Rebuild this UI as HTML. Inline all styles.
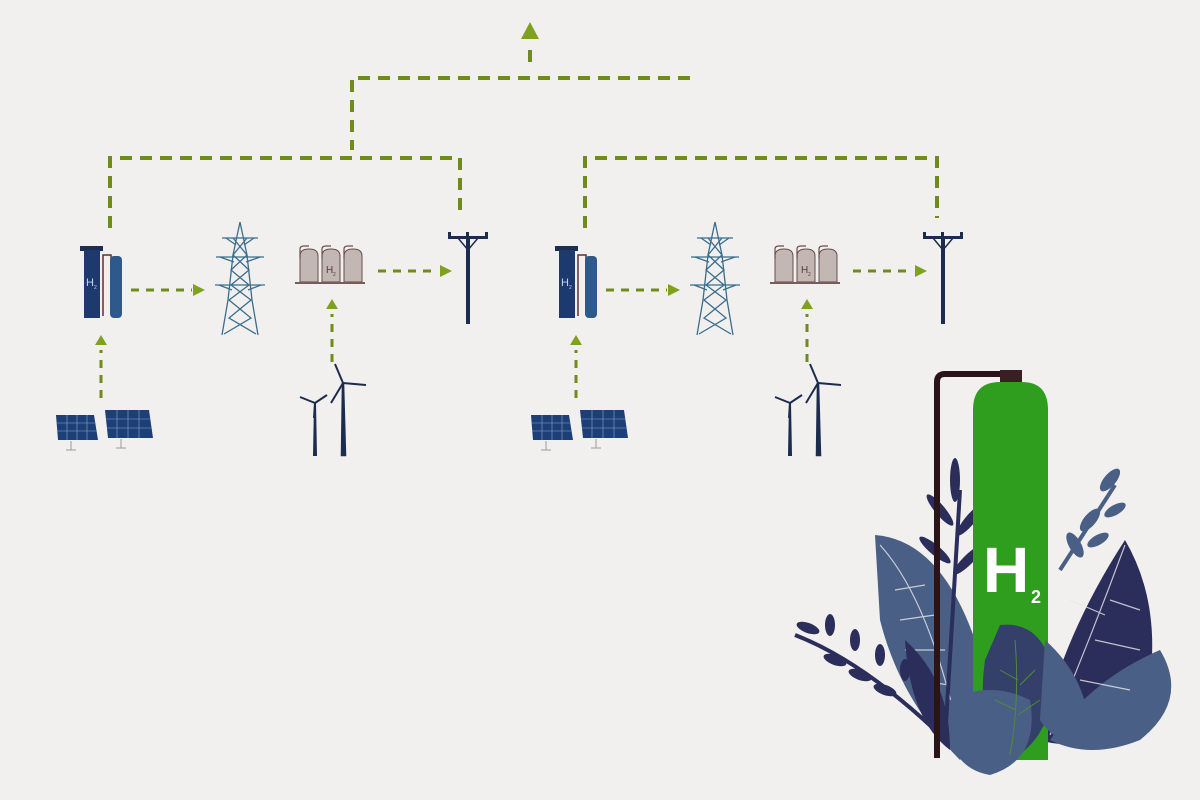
<!DOCTYPE html>
<html><head><style>html,body{margin:0;padding:0;background:#f1f0ee}svg{display:block}</style></head>
<body>
<svg width="1200" height="800" viewBox="0 0 1200 800" xmlns="http://www.w3.org/2000/svg" font-family="Liberation Sans, sans-serif">
<rect width="1200" height="800" fill="#f1f0ee"/>
<defs>
<g id="grp">
 <rect x="80" y="246" width="23" height="5" fill="#1d2c52"/>
 <rect x="84" y="250" width="16" height="68" fill="#1d3a6e"/>
 <text x="86" y="286" font-size="11" fill="#c8d4e8">H</text><text x="94" y="289" font-size="5" fill="#c8d4e8">2</text>
 <path d="M103 316 V255 H111 V260" stroke="#5a3030" stroke-width="1.5" fill="none"/>
 <rect x="110" y="256" width="12" height="62" rx="4" fill="#2d5a8a"/>
 <g stroke="#3a6d8e" stroke-width="1.3" fill="none">
  <path d="M240 222 L233 255 L228 300 L222 335 M240 222 L247 255 L252 300 L258 335"/>
  <path d="M222 238 H258 M216 257 H264 M215 285 H265"/>
  <path d="M233 238 L247 255 L231 270 L249 285 L229 300 L251 318 L224 334 M247 238 L233 255 L249 270 L231 285 L251 300 L229 318 L256 334"/>
  <path d="M226 238 L236 245 M254 238 L244 245 M220 257 L234 262 M260 257 L246 262 M219 285 L232 290 M261 285 L248 290"/>
 </g>
 <g fill="#c3b7b4" stroke="#6a4c4c" stroke-width="1">
  <path d="M300 282 V256 Q300 249 309 249 Q318 249 318 256 V282 Z"/>
  <path d="M322 282 V256 Q322 249 331 249 Q340 249 340 256 V282 Z"/>
  <path d="M344 282 V256 Q344 249 353 249 Q362 249 362 256 V282 Z"/>
 </g>
 <path d="M300 259 V249 Q300 246 304 246 H309 M322 259 V249 Q322 246 326 246 H331 M344 259 V249 Q344 246 348 246 H353" stroke="#6a4c4c" stroke-width="1.2" fill="none"/>
 <rect x="295" y="282" width="70" height="2" fill="#7a5a5a"/>
 <text x="326" y="273" font-size="10" fill="#5a3a3a">H</text><text x="333" y="276" font-size="5" fill="#5a3a3a">2</text>
 <rect x="466" y="236" width="4" height="88" fill="#1b2c4e"/>
 <rect x="448" y="236" width="40" height="3" fill="#1b2c4e"/>
 <path d="M458 238 L468 250 L478 238" stroke="#1b2c4e" stroke-width="1.5" fill="none"/>
 <rect x="448" y="232" width="3" height="4" fill="#1b2c4e"/><rect x="466" y="232" width="3" height="4" fill="#1b2c4e"/><rect x="485" y="232" width="3" height="4" fill="#1b2c4e"/>
 <path d="M56 415 H94 L98 440 H58 Z" fill="#1d3f78"/>
 <path d="M105 410 H149 L153 438 H108 Z" fill="#1d3f78"/>
 <g stroke="#8aa6d0" stroke-width="0.6"><path d="M57 423 H96 M57 431 H97 M106 419 H150 M107 428 H151 M67 415 V440 M77 415 V440 M87 415 V440 M117 410 V438 M128 410 V438 M139 410 V438"/></g>
 <path d="M71 441 V450 M66 450 H76 M121 439 V448 M116 448 H126" stroke="#9a9a9a" stroke-width="1"/>
 <g stroke="#1b2c4e" fill="#1b2c4e">
  <path d="M314 455 L315 403 L316 455 Z" stroke-width="2"/>
  <path d="M315 403 L300 397 M315 403 L327 395 M315 403 L314 418" stroke-width="2"/>
  <path d="M342 455 L343 383 L345 455 Z" stroke-width="2.5"/>
  <path d="M343 383 L335 364 M343 383 L366 385 M343 383 L331 403" stroke-width="2"/>
 </g>
 <g stroke="#6e8b1c" stroke-width="3" stroke-dasharray="8 7" fill="none">
  <path d="M131 290 H192"/><path d="M378 271 H437"/>
  <path d="M101 398 V350"/><path d="M332 362 V314"/>
 </g>
 <g fill="#7ea21e">
  <path d="M193 284 L205 290 L193 296 Z"/><path d="M440 265 L452 271 L440 277 Z"/>
  <path d="M95 345 L101 335 L107 345 Z"/><path d="M326 309 L332 299 L338 309 Z"/>
 </g>
</g>
</defs>
<use href="#grp"/>
<use href="#grp" x="475"/>
<g stroke="#6e8b1c" stroke-width="4" stroke-dasharray="12 8" fill="none">
 <path d="M530 62 V44"/>
 <path d="M690 78 H352 V150"/>
 <path d="M110 228 V158 H460 V218"/>
 <path d="M585 228 V158 H937 V218"/>
</g>
<path d="M521 39 L530 22 L539 39 Z" fill="#7ea21e"/>
<g fill="#4a5f85">
 <path d="M875 535 Q940 540 975 640 Q990 720 960 760 Q900 700 880 620 Z"/>
 <path d="M1125 540 Q1160 600 1150 680 Q1100 760 1040 740 Q1060 640 1125 540 Z" fill="#2b2d5a"/>
 <path d="M1160 650 Q1190 700 1140 740 Q1090 760 1050 740 Q1090 680 1160 650 Z"/>
</g>
<g stroke="#e8e8ee" stroke-width="1.2" fill="none" opacity="0.8">
 <path d="M880 545 Q930 600 960 740"/><path d="M895 590 L925 585 M900 620 L935 615 M905 650 L945 650 M912 680 L950 685"/>
 <path d="M1125 545 Q1090 640 1050 735"/><path d="M1110 600 L1140 610 M1095 640 L1140 650 M1080 680 L1130 690 M1070 600 L1105 615"/>
</g>
<g stroke="#2b2d5a" stroke-width="4" fill="none"><path d="M960 490 L945 740"/><path d="M795 635 Q860 660 935 730"/></g>
<g fill="#2b2d5a">
 <ellipse cx="955" cy="480" rx="5" ry="22"/><ellipse cx="940" cy="510" rx="5" ry="20" transform="rotate(-40 940 510)"/><ellipse cx="970" cy="520" rx="5" ry="20" transform="rotate(40 970 520)"/>
 <ellipse cx="935" cy="550" rx="5" ry="20" transform="rotate(-50 935 550)"/><ellipse cx="968" cy="560" rx="5" ry="20" transform="rotate(45 968 560)"/>
 <ellipse cx="808" cy="628" rx="12" ry="5" transform="rotate(20 808 628)"/><ellipse cx="830" cy="625" rx="5" ry="11"/><ellipse cx="855" cy="640" rx="5" ry="11"/><ellipse cx="880" cy="655" rx="5" ry="11"/>
 <ellipse cx="835" cy="660" rx="12" ry="5" transform="rotate(20 835 660)"/><ellipse cx="860" cy="675" rx="12" ry="5" transform="rotate(20 860 675)"/><ellipse cx="885" cy="690" rx="12" ry="5" transform="rotate(20 885 690)"/><ellipse cx="905" cy="670" rx="5" ry="11"/>
 <path d="M905 640 Q950 680 950 750 Q910 720 905 640 Z"/>
</g>
<path d="M937 758 V382 Q937 374 945 374 H1020" stroke="#2a1418" stroke-width="6" fill="none"/>
<rect x="1000" y="370" width="22" height="14" fill="#3a2024"/>
<path d="M973 760 V410 Q973 382 1000 382 H1022 Q1048 382 1048 410 V760 Z" fill="#2f9e1e"/>
<text x="983" y="592" font-size="64" font-weight="bold" fill="#ffffff">H</text>
<text x="1031" y="603" font-size="18" font-weight="bold" fill="#ffffff">2</text>
<g fill="#4a5f85">
 <path d="M1060 570 L1115 485" stroke="#4a5f85" stroke-width="4"/>
 <ellipse cx="1110" cy="480" rx="6" ry="14" transform="rotate(40 1110 480)"/><ellipse cx="1090" cy="520" rx="6" ry="14" transform="rotate(40 1090 520)"/><ellipse cx="1075" cy="545" rx="6" ry="14" transform="rotate(-30 1075 545)"/><ellipse cx="1115" cy="510" rx="12" ry="5" transform="rotate(-30 1115 510)"/><ellipse cx="1098" cy="540" rx="12" ry="5" transform="rotate(-30 1098 540)"/>
 <path d="M1000 625 Q1045 620 1055 680 Q1050 740 1010 760 Q975 730 985 660 Z" fill="#34406a"/>
 <path d="M950 700 Q990 680 1030 700 Q1040 760 990 775 Q960 770 950 740 Z"/>
 <path d="M1045 640 Q1090 680 1090 740 Q1060 750 1040 720 Z"/>
</g>
<path d="M1015 640 Q1020 700 1010 755 M1000 670 L1018 680 M995 700 L1016 710 M1035 670 L1020 685 M1040 700 L1018 715" stroke="#4f8a3a" stroke-width="1" fill="none"/>
</svg>
</body></html>
